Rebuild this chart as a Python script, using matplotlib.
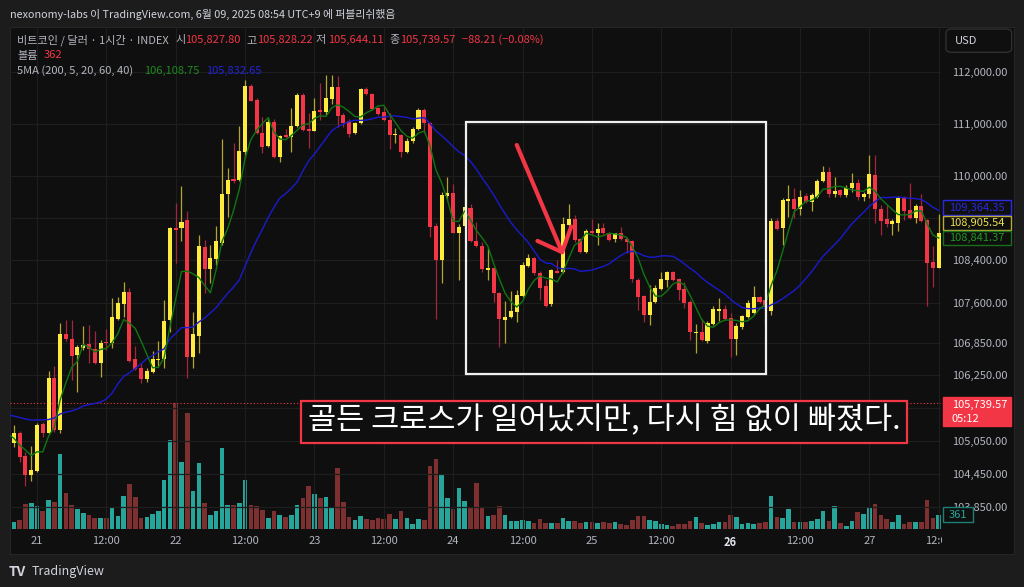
"""BTC/USD 1h candles with 5/20 MA and volume, TradingView dark theme, golden-cross note."""

import matplotlib

matplotlib.use("Agg")

import numpy as np
import pandas as pd
from matplotlib import pyplot as plt
from matplotlib.patches import FancyBboxPatch, Rectangle
from matplotlib.ticker import NullFormatter, NullLocator

plt.rcParams["font.family"] = ["Noto Sans CJK KR", "DejaVu Sans"]

# hourly candles, hours counted from 21 00:00 (first one is 20 19:00)
hours = list(range(-5, 157))
opens = [
    105245, 105002, 105196, 104770, 104424, 104502, 105346, 105196, 106207, 105245,
    107016, 106918, 106626, 106762, 106825, 106738, 106484, 106873, 106844, 107296,
    107571, 107796, 106546, 106391, 106183, 106318, 106534, 106552, 107278, 109003,
    109003, 109160, 106589, 106979, 108643, 108228, 108417, 108730, 109649, 109941,
    109922, 110464, 111733, 111462, 110830, 110574, 111042, 110368, 110786, 110753,
    110959, 111559, 110896, 110869, 111268, 111235, 111476, 111720, 111171, 111056,
    110818, 111011, 111675, 111573, 111301, 111235, 111075, 110780, 110786, 110453,
    110670, 110896, 111268, 111023, 109046, 108403, 109622, 109680, 108908, 109046,
    109382, 108768, 108673, 108215, 108247, 107777, 107278, 107328, 107432, 107727,
    108296, 108435, 108153, 107914, 107571, 108196, 108172, 109065, 109173, 108794,
    108560, 108957, 108908, 109002, 108919, 108794, 108908, 108800, 108762, 108027,
    107727, 107371, 107608, 107858, 108027, 108183, 108046, 107858, 107619, 107030,
    107059, 106892, 107203, 107451, 107477, 107321, 106918, 107153, 107339, 107402,
    107713, 107651, 107451, 109147, 109002, 109527, 109553, 109363, 109617, 109508,
    109603, 109903, 110080, 109649, 109731, 109636, 109763, 109859, 109603, 109655,
    110017, 109363, 109173, 109078, 109109, 109572, 109350, 109192, 109426, 109160,
    108371, 108258,
]
highs = [
    105281, 105336, 105227, 104843, 104952, 105379, 105397, 106336, 106423, 107228,
    107278, 107278, 106812, 107172, 107185, 107078, 106905, 107104, 107683, 107713,
    107984, 107871, 106794, 106473, 106380, 106700, 106886, 107651, 109027, 109477,
    109807, 109337, 107432, 108875, 108781, 108686, 109046, 110709, 110146, 110626,
    110959, 111850, 111766, 111501, 111127, 111127, 111088, 110786, 110896, 111301,
    111592, 111598, 111210, 111495, 111786, 111948, 111948, 111934, 111204, 111088,
    111042, 111689, 111720, 111592, 111332, 111332, 111204, 110915, 110805, 110722,
    110946, 111301, 111301, 111042, 109097, 109699, 109973, 109846, 109084, 109775,
    109464, 109128, 108749, 108643, 108278, 107807, 107638, 107826, 107839, 108365,
    108517, 108466, 108202, 108027, 108228, 108403, 109223, 109464, 109255, 108813,
    108983, 109173, 109097, 109097, 108932, 108919, 109033, 108843, 108781, 108059,
    107745, 107933, 107933, 108183, 108202, 108202, 108059, 107995, 107651, 107203,
    107290, 107265, 107539, 107683, 107558, 107408, 107228, 107371, 107651, 107914,
    107727, 107877, 109192, 109198, 109584, 109826, 109763, 109731, 109668, 109680,
    109935, 110190, 110176, 109973, 109744, 109826, 110050, 109935, 109699, 110401,
    110401, 109445, 109445, 109179, 109622, 109617, 109859, 109464, 109655, 109173,
    108668, 109268,
]
lows = [
    104934, 104934, 104666, 104224, 104315, 104479, 105111, 105172, 105208, 105196,
    106886, 106164, 105948, 106719, 106484, 106454, 106225, 106719, 106762, 107278,
    107339, 106503, 106349, 106103, 106133, 106299, 106410, 106380, 107059, 108341,
    108768, 106196, 106380, 106658, 107777, 107965, 108309, 108686, 109223, 109859,
    109903, 110338, 111443, 110805, 110445, 110549, 110343, 110272, 110728, 110464,
    110940, 110863, 110535, 110863, 111075, 111171, 111385, 110946, 110946, 110753,
    110805, 110998, 111559, 111268, 111171, 111056, 110510, 110626, 110368, 110439,
    110626, 110882, 110818, 108843, 107290, 107965, 109540, 108908, 108027, 109027,
    108743, 108648, 108183, 108027, 107619, 106781, 106855, 107309, 107246, 107708,
    108277, 108121, 107651, 107526, 107544, 108153, 108159, 109046, 108749, 108541,
    108541, 108875, 108686, 108894, 108762, 108749, 108781, 108541, 107995, 107464,
    107246, 107185, 107595, 107839, 107902, 108008, 107651, 107496, 106905, 106658,
    106886, 106844, 107185, 107265, 107278, 106595, 106626, 107104, 107309, 107389,
    107600, 107185, 107371, 108970, 108686, 109211, 109192, 109255, 109489, 109337,
    109584, 109884, 109603, 109603, 109603, 109603, 109699, 109540, 109527, 109572,
    109109, 108875, 109033, 108875, 108957, 109160, 109173, 109097, 109128, 107539,
    107902, 108243,
]
closes = [
    105007, 105196, 104757, 104424, 104515, 105336, 105190, 106196, 105245, 107011,
    106918, 106613, 106769, 106812, 106738, 106484, 106855, 106855, 107339, 107589,
    107796, 106515, 106362, 106183, 106336, 106552, 106552, 107265, 109003, 108976,
    109128, 106589, 107011, 108668, 108228, 108435, 108768, 109655, 109922, 109903,
    110478, 111733, 111448, 110818, 110560, 111031, 110368, 110766, 110741, 110959,
    111559, 110882, 110863, 111254, 111224, 111495, 111720, 111152, 111023, 110805,
    111011, 111675, 111573, 111282, 111191, 111075, 110786, 110805, 110464, 110670,
    110896, 111268, 111011, 109033, 108403, 109636, 109680, 108919, 109033, 109412,
    108768, 108673, 108228, 108247, 107777, 107290, 107339, 107451, 107740, 108309,
    108435, 108153, 107871, 107544, 108215, 108164, 109084, 109173, 108781, 108560,
    108957, 108908, 108983, 108908, 108781, 108908, 108794, 108749, 108040, 107713,
    107371, 107619, 107871, 108046, 108183, 108027, 107839, 107589, 107048, 107059,
    106905, 107216, 107477, 107483, 107296, 106923, 107166, 107352, 107589, 107713,
    107619, 107526, 109147, 108983, 109540, 109553, 109363, 109603, 109508, 109636,
    109909, 110080, 109655, 109718, 109636, 109763, 109870, 109603, 109655, 110036,
    109369, 109147, 109084, 109141, 109572, 109331, 109192, 109426, 109147, 108352,
    108258, 108905.54,
]
volumes = [
    180, 190, 230, 645, 665, 600, 470, 750, 705, 1935,
    920, 625, 515, 405, 360, 285, 285, 285, 575, 345,
    845, 1160, 820, 275, 300, 385, 470, 1265, 2295, 3245,
    1720, 2985, 990, 1700, 665, 360, 455, 2080, 625, 610,
    680, 1255, 610, 595, 480, 290, 455, 355, 310, 355,
    625, 810, 1100, 910, 810, 825, 540, 1575, 695, 310,
    240, 330, 260, 240, 275, 260, 395, 260, 455, 290,
    135, 260, 240, 1620, 1815, 1385, 810, 525, 1060, 715,
    580, 1185, 575, 345, 360, 585, 360, 200, 200, 240,
    200, 145, 260, 155, 145, 145, 285, 215, 215, 145,
    175, 175, 145, 175, 145, 175, 130, 110, 240, 345,
    330, 230, 215, 130, 110, 70, 130, 130, 215, 300,
    145, 110, 130, 190, 190, 360, 315, 130, 145, 130,
    145, 190, 860, 300, 275, 515, 190, 190, 190, 215,
    260, 470, 200, 595, 145, 85, 215, 445, 385, 575,
    645, 360, 260, 190, 360, 130, 175, 175, 175, 755,
    285, 361,
]

# moving-average values read off the chart where the window reaches back
# before the first visible candle
ma5_head = [105172, 105093, 104970, 104879]
ma20_head = [105520, 105501, 105474, 105446, 105428, 105428, 105428, 105437, 105465, 105538,
             105574, 105593, 105630, 105685, 105712, 105731, 105758, 105813, 105924]

price_ticks = [112000, 111000, 110000, 109200, 108400, 107600, 106850, 106250,
               105650, 105050, 104450, 103850]
price_labels = ["112,000.00", "111,000.00", "110,000.00", "", "108,400.00", "107,600.00",
                "106,850.00", "106,250.00", "", "105,050.00", "104,450.00", "103,850.00"]
time_ticks = list(range(0, 157, 12))
time_labels = ["21", "12:00", "22", "12:00", "23", "12:00", "24", "12:00",
               "25", "12:00", "26", "12:00", "27", "12:00"]

last_price = 105739.57
note = "골든 크로스가 일어났지만, 다시 힘 없이 빠졌다."
box_hours = (74.2, 126.1)
box_prices = (106275, 111045)
arrow_from = (83.0, 110593)
arrow_to = (91.06, 108497)

BG = "#0f0f0f"
OUTER = "#1c1c1c"
TXT = "#b2b5be"
UP = "#ffeb3b"
DOWN = "#f23645"
WICK_UP = "#b3a52e"
WICK_DOWN = "#a3263a"
VOL_UP = "#26a69a"
VOL_DOWN = "#7e2f2f"
MA5_C = "#117611"
MA20_C = "#1a1ad0"

W, H = 1024, 587


def fxy(x, y):
    return x / W, 1 - y / H


def ftext(x, y, s, **kw):
    fx, fy = fxy(x, y)
    kw.setdefault("va", "center")
    return fig.text(fx, fy, s, **kw)


def fbox(x0, y0, x1, y1, **kw):
    fx0, fy1 = fxy(x0, y1)
    rect = Rectangle((fx0, fy1), (x1 - x0) / W, (y1 - y0) / H, transform=fig.transFigure, **kw)
    fig.add_artist(rect)
    return rect


fig = plt.figure(figsize=(W / 100, H / 100), dpi=100, facecolor=OUTER)
fbox(10, 27, 1014, 554, facecolor=BG, edgecolor="#252525", linewidth=0.8, zorder=-1)

rect = [10 / W, 1 - 529 / H, 931 / W, 502 / H]
axv = fig.add_axes(rect)
ax = fig.add_axes(rect)
for a in (axv, ax):
    a.patch.set_alpha(0)
    a.set_xlim(-4.67, 156.4)
    for s in a.spines.values():
        s.set_visible(False)

t = np.array(hours, dtype=float)
o = np.array(opens, dtype=float)
h = np.array(highs, dtype=float)
lo = np.array(lows, dtype=float)
c = np.array(closes, dtype=float)
up = c >= o

# volume
axv.bar(t, volumes, width=0.8, color=np.where(up, VOL_UP, VOL_DOWN), linewidth=0)
axv.set_ylim(0, 12950)
axv.set_xticks([])
axv.set_yticks([])

# price
ax.set_yscale("log")
ax.set_ylim(103448, 112886)
ax.yaxis.set_minor_locator(NullLocator())
ax.yaxis.set_minor_formatter(NullFormatter())
ax.set_yticks(price_ticks)
ax.set_yticklabels(price_labels)
ax.yaxis.tick_right()
ax.tick_params(axis="y", length=0, pad=8, labelsize=8, labelcolor=TXT)
ax.set_xticks(time_ticks)
ax.set_xticklabels(time_labels)
ax.tick_params(axis="x", length=0, pad=5, labelsize=8, labelcolor=TXT)
ax.get_xticklabels()[10].set_fontweight("bold")
ax.get_xticklabels()[10].set_color("#e0e3eb")
ax.grid(True, color="#1e1e1e", linewidth=0.9)
ax.set_axisbelow(True)

ax.vlines(t[up], lo[up], h[up], color=WICK_UP, linewidth=0.9, zorder=2)
ax.vlines(t[~up], lo[~up], h[~up], color=WICK_DOWN, linewidth=0.9, zorder=2)
ax.bar(t, np.abs(c - o), bottom=np.minimum(o, c), width=0.7,
       color=np.where(up, UP, DOWN), linewidth=0, zorder=3)

close_s = pd.Series(c)
ma5 = close_s.rolling(5).mean().to_numpy()
ma5[:len(ma5_head)] = ma5_head
ma20 = close_s.rolling(20).mean().to_numpy()
ma20[:len(ma20_head)] = ma20_head
ax.plot(t, ma20, color=MA20_C, linewidth=1.0, zorder=4)
ax.plot(t, ma5, color=MA5_C, linewidth=1.0, zorder=4)

ax.axhline(last_price, color=DOWN, linewidth=0.8, linestyle=(0, (1, 2)), zorder=1)

# highlight box and arrow
ax.add_patch(Rectangle((box_hours[0], box_prices[0]), box_hours[1] - box_hours[0],
                       box_prices[1] - box_prices[0], fill=False, edgecolor="#f0f0f0",
                       linewidth=1.6, zorder=5))
ax.annotate("", xy=arrow_to, xytext=arrow_from,
            arrowprops=dict(arrowstyle="->,head_length=0.6,head_width=0.55", color=DOWN,
                            linewidth=3, mutation_scale=24, shrinkA=0, shrinkB=0,
                            capstyle="round", joinstyle="round"),
            zorder=6)

# note box
fbox(301, 401, 907, 443, facecolor=BG, edgecolor=DOWN, linewidth=1.6, zorder=3)
ftext(604, 421, note, color="white", fontsize=22, ha="center", zorder=4)

# cover the clipped time label under the price scale
fbox(942, 531, 1013, 553, facecolor=BG, edgecolor="none", zorder=2)

# price-scale labels
def scale_label(y0, y1, s, fc, ec, tc, x0=943, x1=1011):
    fbox(x0, y0, x1, y1, facecolor=fc, edgecolor=ec, linewidth=1.0, zorder=5)
    ftext((x0 + x1) / 2, (y0 + y1) / 2 + 0.5, s, color=tc, fontsize=8, ha="center", zorder=6)


scale_label(200, 214.5, "109,364.35", BG, "#2a2ae0", "#2a2ae0")
scale_label(215.5, 229.5, "108,905.54", BG, "#b8ab3a", "#ece04e")
scale_label(230.5, 245, "108,841.37", BG, "#1a6f1a", "#1f9a1f")
fbox(943, 396.7, 1011, 426, facecolor=DOWN, edgecolor=DOWN, zorder=5)
ftext(952, 404.5, "105,739.57", color="white", fontsize=8, zorder=6)
ftext(952, 418.5, "05:12", color="white", fontsize=8, zorder=6)
scale_label(507.3, 521.7, "361", BG, "#1d7f75", "#26a69a", x0=943, x1=973)

usd = FancyBboxPatch((946 / W, 1 - 52.3 / H), 65.7 / W, 23.3 / H,
                     boxstyle="round,pad=0,rounding_size=0.006", transform=fig.transFigure,
                     facecolor=BG, edgecolor="#333333", linewidth=0.9, zorder=5)
fig.add_artist(usd)
ftext(955, 41, "USD", color="#d1d4dc", fontsize=8, zorder=6)

# header and legend
ftext(9.5, 14, "nexonomy-labs 이 TradingView.com, 6월 09, 2025 08:54 UTC+9 에 퍼블리쉬했음",
      color="#d1d4dc", fontsize=7.8)
ftext(17, 40, "비트코인 / 달러 · 1시간 · INDEX", color=TXT, fontsize=8)
for x, s in [(175, "시"), (246, "고"), (316, "저"), (389.3, "종")]:
    ftext(x, 40, s, color=TXT, fontsize=8)
for x, s in [(185, "105,827.80"), (256.7, "105,828.22"), (328.3, "105,644.11"),
             (400, "105,739.57"), (461.7, "\u221288.21 (\u22120.08%)")]:
    ftext(x, 40, s, color=DOWN, fontsize=8)
ftext(17, 55.5, "볼륨", color=TXT, fontsize=8)
ftext(44, 55.5, "362", color=DOWN, fontsize=8)
ftext(17, 71, "5MA (200, 5, 20, 60, 40)", color=TXT, fontsize=8)
ftext(144, 71, "106,108.75", color="#1e8a1e", fontsize=8)
ftext(206, 71, "105,832.65", color="#2323d8", fontsize=8)

# footer logo
ftext(9, 572, "TV", color="#d1d4dc", fontsize=10, fontweight="bold")
ftext(31.5, 572, "TradingView", color="#d1d4dc", fontsize=9)

fig.savefig("out.png", dpi=100, facecolor=OUTER)
plt.close(fig)
